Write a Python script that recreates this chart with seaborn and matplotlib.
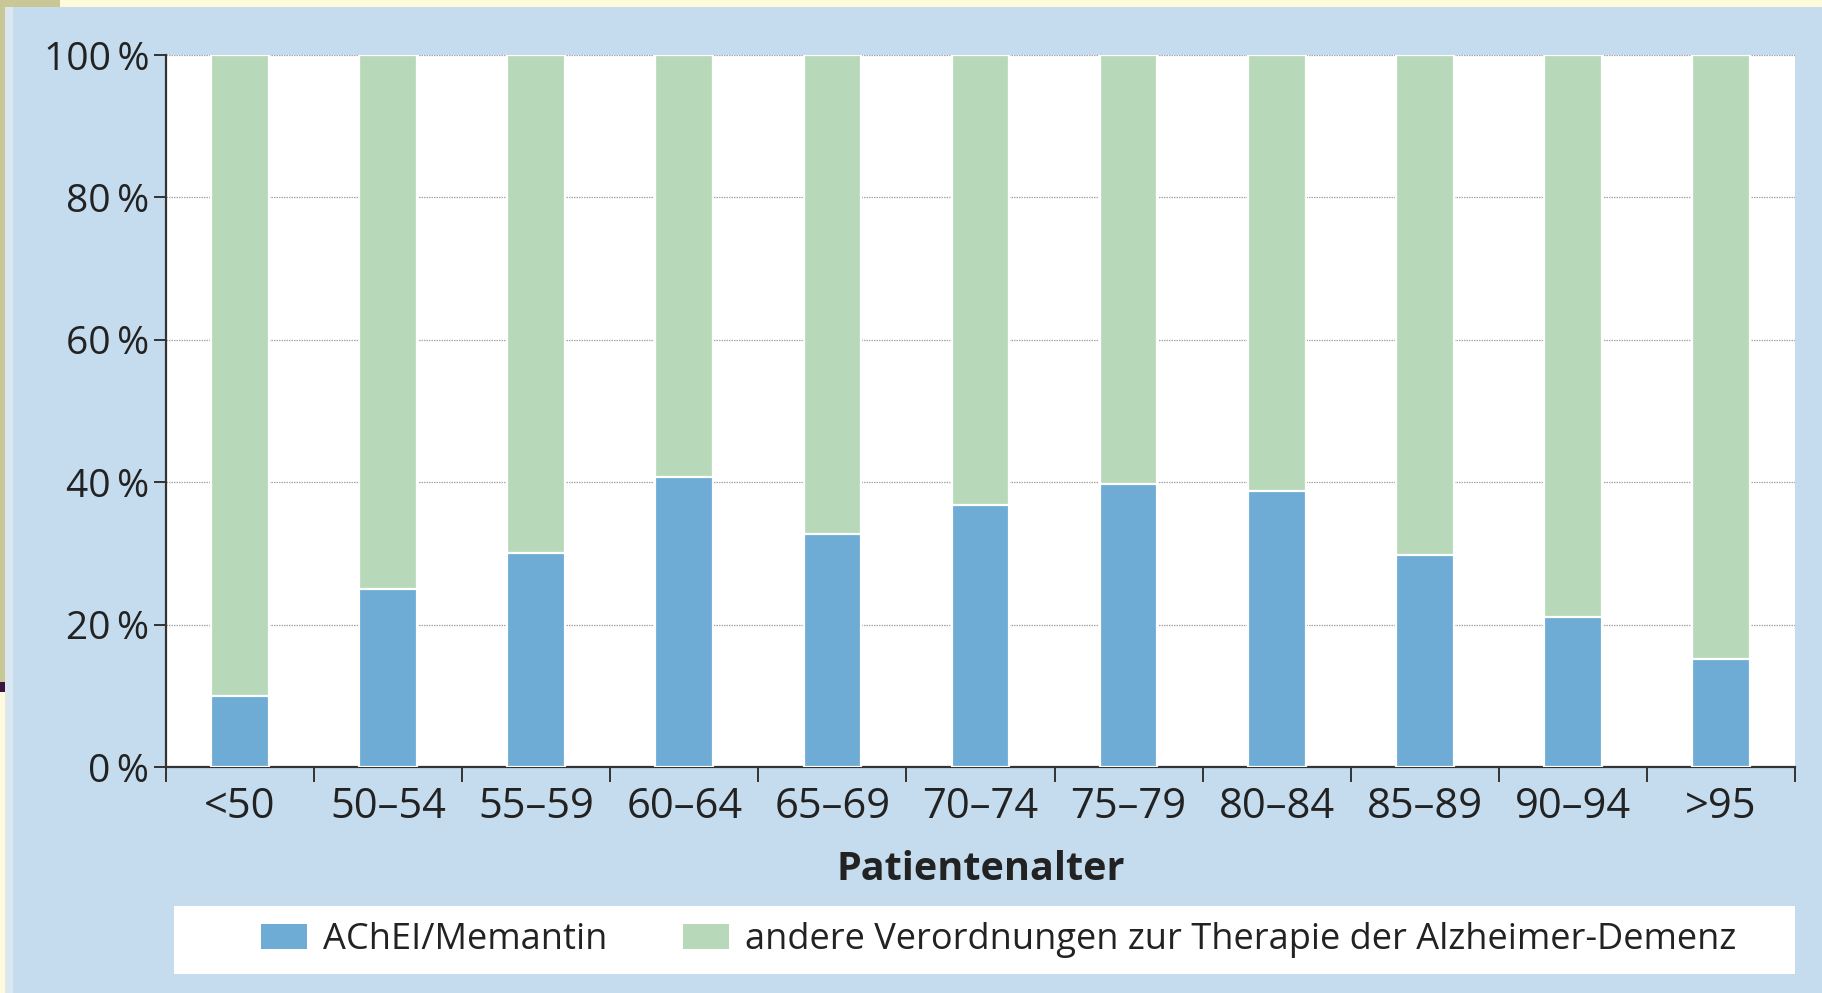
import matplotlib
matplotlib.use("Agg")
import matplotlib.pyplot as plt
import seaborn as sns
import pandas as pd
from matplotlib.patches import Rectangle, Patch
from matplotlib.ticker import FixedLocator

# ---------------- data ----------------
age_groups = ["<50", "50–54", "55–59", "60–64", "65–69", "70–74",
              "75–79", "80–84", "85–89", "90–94", ">95"]
achei_memantin = [10.0, 25.0, 30.0, 40.7, 32.7, 36.8, 39.8, 38.7, 29.8, 21.0, 15.2]
total_share = [100, 100, 100, 100, 100, 100, 100, 100, 100, 100, 100]
y_ticks = [0, 20, 40, 60, 80, 100]
legend_labels = ["AChEI/Memantin",
                 "andere Verordnungen zur Therapie der Alzheimer-Demenz"]
x_title = "Patientenalter"

# ---------------- style ----------------
BG = "#c5dcee"
BLUE = "#6eacd6"
GREEN = "#b7d9ba"
TXT = "#222222"
AX = "#333333"

sns.set_theme(style="white")
plt.rcParams["font.family"] = ["Open Sans", "DejaVu Sans"]

W, H = 1822, 993
fig = plt.figure(figsize=(W / 100, H / 100), dpi=100, facecolor=BG)

# slide frame remnants (scan borders)
frame = [
    ((0, H - 7), W, 7, "#fdfbdb"),
    ((0, H - 7), 60, 7, "#c9c795"),
    ((0, H - 682), 5, 682, "#c9c795"),
    ((5, 0), 8, H - 7, "#dce8f1"),
    ((0, H - 692), 5, 10, "#3c1540"),
    ((0, 0), 5, H - 692, "#fdfbdb"),
]
for (x0, y0), w, h, c in frame:
    fig.patches.append(Rectangle((x0 / W, y0 / H), w / W, h / H,
                                 transform=fig.transFigure, facecolor=c,
                                 edgecolor="none", zorder=0))

ax = fig.add_axes([166 / W, 1 - 767 / H, (1795 - 166) / W, (767 - 55) / H])
ax.set_facecolor("white")

df = pd.DataFrame({"age": age_groups, "achei": achei_memantin, "total": total_share})

sns.barplot(data=df, x="age", y="total", color=GREEN, saturation=1, width=0.39,
            edgecolor="white", linewidth=1.6, ax=ax, zorder=2)
sns.barplot(data=df, x="age", y="achei", color=BLUE, saturation=1, width=0.39,
            edgecolor="white", linewidth=1.6, ax=ax, zorder=3)

ax.set_xlim(-0.5, len(age_groups) - 0.5)
ax.set_ylim(0, 100)

# grid
ax.set_axisbelow(True)
ax.yaxis.grid(True, linestyle=(0, (1.2, 0.8)), color="#a5a5a5", linewidth=0.9)
ax.xaxis.grid(False)

# spines
for s in ["top", "right"]:
    ax.spines[s].set_visible(False)
for s in ["left", "bottom"]:
    ax.spines[s].set_color(AX)
    ax.spines[s].set_linewidth(1.6)

# y ticks
ax.yaxis.set_major_locator(FixedLocator(y_ticks))
ax.set_yticklabels([f"{v}\u2009%" for v in y_ticks])
ax.tick_params(axis="y", which="major", left=True, length=9, width=1.4,
               color=AX, pad=3, labelsize=28, labelcolor=TXT)

# x ticks: labels centred, tick marks on category boundaries
ax.tick_params(axis="x", which="major", bottom=True, length=0, pad=14,
               labelsize=30, labelcolor=TXT)
ax.xaxis.set_minor_locator(FixedLocator([i - 0.5 for i in range(len(age_groups) + 1)]))
ax.tick_params(axis="x", which="minor", bottom=True, length=11, width=1.4,
               color=AX, direction="out")

ax.set_xlabel(x_title, fontsize=28.5, fontweight="bold", color=TXT)
ax.set_ylabel("")
ax.xaxis.set_label_coords(0.5, (767 - 869) / (767 - 55))
ax.xaxis.label.set_va("center")

# legend box
fig.patches.append(Rectangle((174 / W, 1 - 974 / H), (1795 - 174) / W, (974 - 906) / H,
                             transform=fig.transFigure, facecolor="white",
                             edgecolor="none", zorder=1))
handles = [Patch(facecolor=BLUE, edgecolor="none"),
           Patch(facecolor=GREEN, edgecolor="none")]
fig.legend(handles, legend_labels, loc="center left",
           bbox_to_anchor=(243 / W, 1 - 940 / H), ncol=2, frameon=False,
           fontsize=26, borderpad=0, handlelength=1.27, handleheight=0.7,
           handletextpad=0.45, columnspacing=2.1, labelcolor=TXT)

fig.savefig("out.png", dpi=100, facecolor=BG)
